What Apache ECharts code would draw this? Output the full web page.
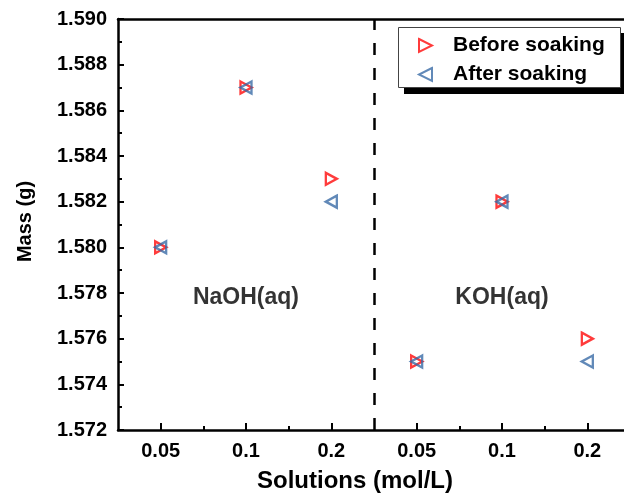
<!DOCTYPE html>
<html>
<head>
<meta charset="utf-8">
<script src="https://cdn.jsdelivr.net/npm/echarts@6/dist/echarts.min.js"></script>
<style>html,body{margin:0;padding:0;background:#fff;}#c{width:624px;height:493px;}</style>
</head>
<body>
<div id="c"></div>
<script>
// categories along x (positions 1..6)
const categories = ['0.05', '0.1', '0.2', '0.05', '0.1', '0.2'];
const groupLabels = ['NaOH(aq)', 'KOH(aq)'];
const groupLabelPos = [[2, 1.5778], [5, 1.5778]];
const beforeSoaking = [1.580, 1.587, 1.583, 1.575, 1.582, 1.576];
const afterSoaking  = [1.580, 1.587, 1.582, 1.575, 1.582, 1.575];
const yTicks = [1.572, 1.574, 1.576, 1.578, 1.580, 1.582, 1.584, 1.586, 1.588, 1.590];
const dividerX = 3.5;

const FONT = '"Liberation Sans", Arial, sans-serif';
const RED = '#ff0a0a';
const BLUE = '#3a6ca6';
const rightTri = 'path://M0,0 L10,5 L0,10 Z';
const leftTri = 'path://M10,0 L0,5 L10,10 Z';
const X_MIN = 0.5, X_MAX = 6.5;

const chart = echarts.init(document.getElementById('c'));
const toPts = arr => arr.map((v, i) => [i + 1, v]);

chart.setOption({
  animation: false,
  backgroundColor: '#fff',
  grid: { left: 118, top: 19, width: 512, height: 411, show: false, containLabel: false, outerBoundsMode: 'none' },
  xAxis: [{
    type: 'value', min: X_MIN, max: X_MAX, interval: 0.5,
    name: 'Solutions (mol/L)', nameLocation: 'middle', nameGap: 39,
    nameTextStyle: { fontFamily: FONT, fontWeight: 'bold', fontSize: 24, color: '#000', padding: [0, 38, 0, 0] },
    axisLine: { show: true, onZero: false, lineStyle: { color: '#000', width: 2.5 } },
    axisTick: { show: true, inside: true, length: 7, lineStyle: { color: '#000', width: 2 }, customValues: [1, 2, 3, 4, 5, 6] },
    axisLabel: { customValues: [1, 2, 3, 4, 5, 6], formatter: v => categories[Math.round(v) - 1] || '', margin: 11,
      fontFamily: FONT, fontWeight: 'bold', fontSize: 20, color: '#000' },
    splitLine: { show: false }
  }, {
    type: 'value', min: X_MIN, max: X_MAX, interval: 0.5, position: 'bottom', gridIndex: 0,
    axisLine: { show: false },
    axisTick: { show: true, inside: true, length: 4, lineStyle: { color: '#000', width: 2 }, customValues: [1.5, 2.5, 4.5, 5.5] },
    axisLabel: { show: false },
    splitLine: { show: false }
  }, {
    type: 'value', min: X_MIN, max: X_MAX, interval: 0.5, position: 'top', gridIndex: 0,
    axisLine: { show: true, onZero: false, lineStyle: { color: '#000', width: 2.5 } },
    axisTick: { show: false }, axisLabel: { show: false }, splitLine: { show: false }
  }],
  yAxis: {
    type: 'value', min: yTicks[0], max: yTicks[yTicks.length - 1], interval: 0.002,
    name: 'Mass (g)', nameLocation: 'middle', nameGap: 83, nameRotate: 90,
    nameTextStyle: { fontFamily: FONT, fontWeight: 'bold', fontSize: 20, color: '#000', padding: [0, 0, 0, 6] },
    axisLine: { show: true, lineStyle: { color: '#000', width: 2.5 } },
    axisTick: { show: true, inside: true, length: 6, lineStyle: { color: '#000', width: 2 } },
    minorTick: { show: true, splitNumber: 2, length: 4, lineStyle: { color: '#000', width: 2 } },
    axisLabel: { formatter: v => v.toFixed(3), margin: 11, fontFamily: FONT, fontWeight: 'bold', fontSize: 20, color: '#000' },
    splitLine: { show: false }
  },
  graphic: [
    { type: 'rect', z: 90, shape: { x: 404, y: 33, width: 224, height: 61 }, style: { fill: '#000' } },
    { type: 'rect', z: 91, shape: { x: 398.5, y: 27.5, width: 222, height: 60 }, style: { fill: '#fff', stroke: '#444', lineWidth: 1 } }
  ],
  legend: {
    z: 100,
    orient: 'vertical', left: 398, top: 27, width: 223,
    padding: [8, 10, 6, 20], itemGap: 8, itemWidth: 13, itemHeight: 14,
    textStyle: { fontFamily: FONT, fontWeight: 'bold', fontSize: 21, color: '#000', padding: [0, 0, 0, 16] },
    data: [
      { name: 'Before soaking', icon: rightTri, itemStyle: { color: 'rgba(255,255,255,0)', borderColor: RED, borderWidth: 2 } },
      { name: 'After soaking', icon: leftTri, itemStyle: { color: 'rgba(255,255,255,0)', borderColor: BLUE, borderWidth: 2 } }
    ]
  },
  series: [{
    name: 'Before soaking', type: 'scatter', data: toPts(beforeSoaking),
    symbol: rightTri, symbolSize: [11, 12],
    itemStyle: { color: 'rgba(255,255,255,0)', borderColor: RED, borderWidth: 2.4 },
    markLine: {
      silent: true, symbol: 'none', label: { show: false },
      lineStyle: { color: '#000', width: 2.5, type: [12, 13] },
      data: [{ xAxis: dividerX }]
    }
  }, {
    name: 'After soaking', type: 'scatter', data: toPts(afterSoaking),
    symbol: leftTri, symbolSize: [11, 12],
    itemStyle: { color: 'rgba(255,255,255,0)', borderColor: BLUE, borderWidth: 2.4 }
  }, {
    name: 'groups', type: 'scatter', symbolSize: 0, silent: true,
    data: groupLabelPos.map((p, i) => ({ value: p, label: { formatter: groupLabels[i] } })),
    label: { show: true, position: 'inside', fontFamily: FONT, fontWeight: 'bold', fontSize: 23, color: '#000' }
  }]
});
</script>
</body>
</html>
